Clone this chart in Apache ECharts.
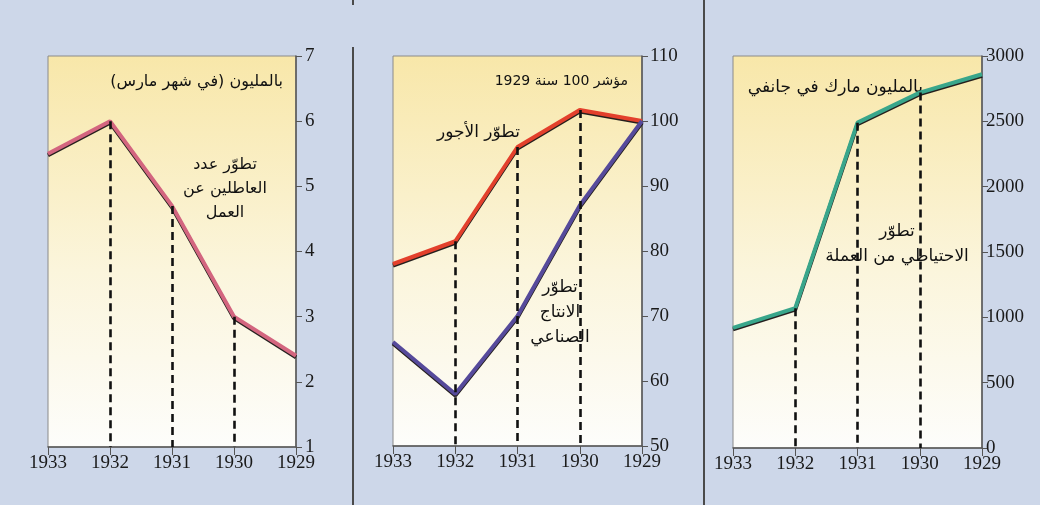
<!DOCTYPE html>
<html>
<head>
<meta charset="utf-8">
<script src="https://cdn.jsdelivr.net/npm/echarts@6/dist/echarts.min.js"></script>
<style>
  html, body { margin: 0; padding: 0; background: #cdd7e9; }
  #main { width: 1040px; height: 505px; }
</style>
</head>
<body>
<div id="main"></div>
<script>
// years run right-to-left from 1933 down to 1929
const years = ["1933", "1932", "1931", "1930", "1929"];

// panel 1: unemployed, millions (March)
const unemployed = [5.5, 6.0, 4.7, 3.0, 2.4];
const unemployedTicks = [1, 7, 1];

// panel 2: index 1929 = 100
const wages = [78, 81.5, 96, 101.7, 100];
const production = [66, 58, 70, 87, 100];
const indexTicks = [50, 110, 10];

// panel 3: currency reserve, million marks (January)
const reserves = [920, 1070, 2490, 2720, 2860];
const reserveTicks = [0, 3000, 500];

const serif = "'Liberation Serif', 'DejaVu Serif', serif";
const arabic = "'DejaVu Sans', sans-serif";

const plotFill = new echarts.graphic.LinearGradient(0, 0, 0, 1, [
  { offset: 0, color: "#f8e7a9" },
  { offset: 0.55, color: "#fbf5dc" },
  { offset: 1, color: "#fdfdfb" }
]);

const grids = [
  { left: 48, top: 56, width: 248, height: 391 },
  { left: 393, top: 56, width: 249, height: 390 },
  { left: 733, top: 56, width: 249, height: 392 }
].map(g => Object.assign(g, {
  show: true,
  backgroundColor: plotFill,
  borderColor: "#8a8a8a",
  borderWidth: 1
}));

function xAxis(i) {
  return {
    type: "category",
    gridIndex: i,
    data: years,
    boundaryGap: false,
    axisLine: { lineStyle: { color: "#555", width: 1.5 } },
    axisTick: { show: true, length: 8, alignWithLabel: true, lineStyle: { color: "#555" } },
    axisLabel: { color: "#1a1a1a", fontFamily: serif, fontSize: 19, margin: 7 },
    splitLine: { show: false }
  };
}

function yAxis(i, ticks, margin) {
  return {
    type: "value",
    gridIndex: i,
    position: "right",
    min: ticks[0],
    max: ticks[1],
    interval: ticks[2],
    axisLine: { show: true, lineStyle: { color: "#555", width: 1.5 } },
    axisTick: { show: true, length: 6, lineStyle: { color: "#555" } },
    axisLabel: {
      color: "#1a1a1a", fontFamily: serif, fontSize: 19, margin: margin,
      formatter: v => String(v)
    },
    splitLine: { show: false }
  };
}

function drops(values, floor) {
  // dashed verticals from the inner points down to the x axis
  return {
    silent: true,
    symbol: "none",
    label: { show: false },
    lineStyle: { color: "#111", type: [8, 5], width: 2.6 },
    data: [1, 2, 3].map(k => [
      { coord: [k, values[k]] },
      { coord: [k, floor] }
    ])
  };
}

function lineSeries(i, values, color, markLine) {
  const s = {
    type: "line",
    xAxisIndex: i,
    yAxisIndex: i,
    data: values,
    symbol: "none",
    z: 3,
    lineStyle: {
      color: color,
      width: 4,
      shadowColor: "rgba(25,20,20,0.95)",
      shadowOffsetY: 1.5,
      shadowBlur: 0
    }
  };
  if (markLine) s.markLine = markLine;
  return s;
}

function note(x, y, text, size, align) {
  return {
    type: "text",
    x: x,
    y: y,
    style: {
      text: text,
      fontFamily: arabic,
      fontSize: size,
      fill: "#111",
      align: align || "center",
      verticalAlign: "middle",
      lineHeight: size + 8
    }
  };
}

const options = {
  animation: false,
  grid: grids,
  xAxis: [xAxis(0), xAxis(1), xAxis(2)],
  yAxis: [
    yAxis(0, unemployedTicks, 9),
    yAxis(1, indexTicks, 8),
    yAxis(2, reserveTicks, 4)
  ],
  series: [
    lineSeries(0, unemployed, "#d3657f", drops(unemployed, unemployedTicks[0])),
    lineSeries(1, wages, "#e3402c", drops(wages, indexTicks[0])),
    lineSeries(1, production, "#564a9b"),
    lineSeries(2, reserves, "#39a68b", drops(reserves, reserveTicks[0]))
  ],
  graphic: [
    { type: "line", shape: { x1: 353, y1: 47, x2: 353, y2: 505 }, style: { stroke: "#4a4a4a", lineWidth: 2 } },
    { type: "line", shape: { x1: 353, y1: 0, x2: 353, y2: 5 }, style: { stroke: "#4a4a4a", lineWidth: 2 } },
    { type: "line", shape: { x1: 704, y1: 0, x2: 704, y2: 505 }, style: { stroke: "#4a4a4a", lineWidth: 2 } },
    note(283, 82, "بالمليون (في شهر مارس)", 16, "right"),
    note(225, 189, "تطوّر عدد\nالعاطلين عن\nالعمل", 16),
    note(628, 81, "مؤشر 100 سنة 1929", 14, "right"),
    note(520, 133, "تطوّر الأجور", 17, "right"),
    note(560, 313, "تطوّر\nالانتاج\nالصناعي", 17),
    note(923, 88, "بالمليون مارك في جانفي", 17, "right"),
    note(897, 244, "تطوّر\nالاحتياطي من العملة", 17)
  ]
};

const myChart = echarts.init(document.getElementById("main"));
myChart.setOption(options);
window.onresize = function() {
  myChart.resize();
};
</script>
</body>
</html>
